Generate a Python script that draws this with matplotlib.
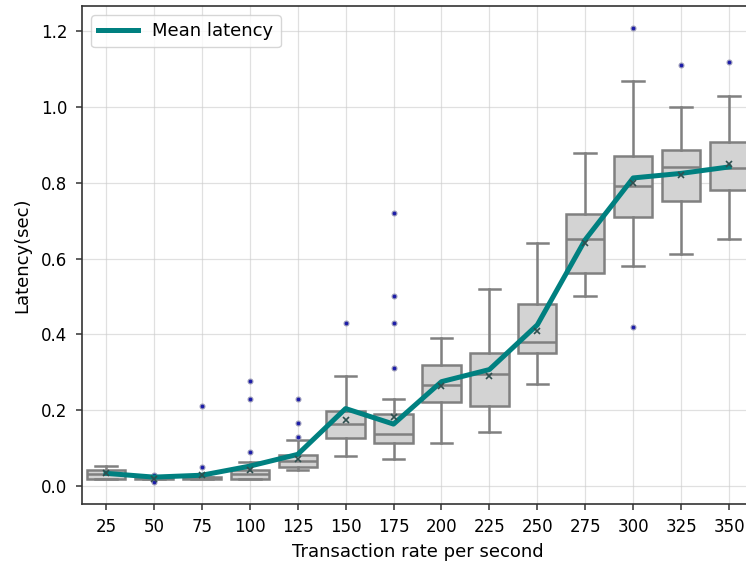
import matplotlib
matplotlib.use('Agg')
import matplotlib.pyplot as plt

# transaction rates (categories)
RATES = [25, 50, 75, 100, 125, 150, 175, 200, 225, 250, 275, 300, 325, 350]

# box statistics
Q1      = [0.018, 0.018, 0.018, 0.018, 0.050, 0.126, 0.112, 0.222, 0.211, 0.352, 0.562, 0.710, 0.752, 0.780]
MEDIAN  = [0.031, 0.020, 0.021, 0.030, 0.065, 0.163, 0.137, 0.266, 0.294, 0.379, 0.652, 0.792, 0.842, 0.839]
Q3      = [0.043, 0.022, 0.024, 0.041, 0.081, 0.198, 0.189, 0.320, 0.352, 0.480, 0.719, 0.871, 0.886, 0.908]
WHISLO  = [0.018, 0.018, 0.018, 0.018, 0.041, 0.080, 0.070, 0.114, 0.141, 0.269, 0.502, 0.580, 0.612, 0.651]
WHISHI  = [0.052, 0.022, 0.024, 0.063, 0.120, 0.290, 0.230, 0.390, 0.519, 0.640, 0.879, 1.069, 1.001, 1.030]
BOXMEAN = [0.033, 0.019, 0.028, 0.043, 0.071, 0.175, 0.182, 0.263, 0.289, 0.410, 0.642, 0.800, 0.821, 0.850]
FLIERS  = [
    [],
    [0.028, 0.011],
    [0.211, 0.050],
    [0.278, 0.228, 0.089],
    [0.229, 0.167, 0.129],
    [0.429],
    [0.720, 0.501, 0.429, 0.311],
    [],
    [],
    [],
    [],
    [1.210, 0.419],
    [1.111],
    [1.118],
]

# mean latency line
MEAN_LATENCY = [0.033, 0.023, 0.028, 0.052, 0.083, 0.204, 0.163, 0.275, 0.307, 0.425, 0.650, 0.813, 0.825, 0.842]

TEAL = '#008080'
GRAY = '#808080'

stats = []
for i in range(len(RATES)):
    stats.append({
        'q1': Q1[i], 'med': MEDIAN[i], 'q3': Q3[i],
        'whislo': WHISLO[i], 'whishi': WHISHI[i],
        'mean': BOXMEAN[i], 'fliers': FLIERS[i],
    })

fig = plt.figure(figsize=(7.46, 5.67), dpi=100)
# axes run past the right edge, as in the cropped reference
ax = fig.add_axes([82/746, 1 - 504/567, (753 - 82)/746, (504 - 6)/567])

pos = list(range(len(RATES)))
ax.bxp(stats, positions=pos, widths=0.8, capwidths=0.45,
       showmeans=True, patch_artist=True,
       boxprops=dict(facecolor='#d3d3d3', edgecolor=GRAY, linewidth=1.8),
       medianprops=dict(color=GRAY, linewidth=1.8),
       whiskerprops=dict(color=GRAY, linewidth=1.8),
       capprops=dict(color=GRAY, linewidth=1.8),
       flierprops=dict(marker='o', markerfacecolor='#1c1ca8', markeredgecolor='#9a9ab8',
                       markersize=3.5, markeredgewidth=0.8),
       meanprops=dict(marker='x', markeredgecolor='#2f4f4f', markersize=4,
                      markeredgewidth=1.2, zorder=5))

ax.plot(pos, MEAN_LATENCY, color=TEAL, lw=3.6, label='Mean latency', zorder=4)

ax.set_xlim(-0.5, 13.5)
ax.set_ylim(-0.048, 1.267)
ax.set_xticks(pos)
ax.set_xticklabels([str(r) for r in RATES])
ax.set_yticks([0.0, 0.2, 0.4, 0.6, 0.8, 1.0, 1.2])
ax.tick_params(axis='both', labelsize=12, length=4.5, width=1.1, color='#333333')
ax.tick_params(axis='y', pad=6)
ax.tick_params(axis='x', pad=5.5)
for sp in ax.spines.values():
    sp.set_linewidth(1.2)
    sp.set_color('#333333')
ax.grid(True, color='#cccccc', alpha=0.6, lw=0.9)
ax.set_axisbelow(True)

ax.set_xlabel('Transaction rate per second', fontsize=13, labelpad=5)
ax.set_ylabel('Latency(sec)', fontsize=13, labelpad=7)
ax.legend(loc='upper left', fontsize=13, handlelength=2.2)

plt.savefig('out.png', dpi=100)
plt.close()
